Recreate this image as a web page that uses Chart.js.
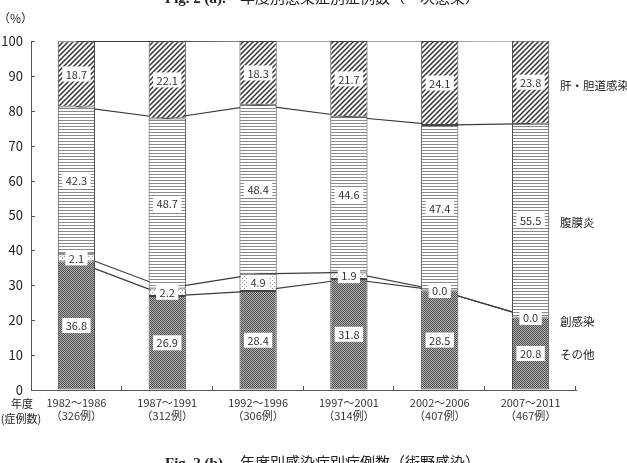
<!DOCTYPE html>
<html lang="ja">
  <head>
    <meta charset="UTF-8" />
    <title>年度別感染症別症例数</title>
    <script src="https://cdn.jsdelivr.net/npm/chart.js@4/dist/chart.umd.min.js"></script>
    <style>
      html, body { margin: 0; padding: 0; background: #fff; }
      #wrap { width: 627px; height: 463px; }
    </style>
  </head>
  <body>
    <div id="wrap"><canvas id="myChart" width="627" height="463"></canvas></div>
    <script>
      // datos
      var periods = ["1982～1986", "1987～1991", "1992～1996", "1997～2001", "2002～2006", "2007～2011"];
      var caseCounts = ["（326例）", "（312例）", "（306例）", "（314例）", "（407例）", "（467例）"];
      var seriesNames = ["その他", "創感染", "腹膜炎", "肝・胆道感染"];
      var otherValues = [36.8, 26.9, 28.4, 31.8, 28.5, 20.8];
      var woundValues = [2.1, 2.2, 4.9, 1.9, 0.0, 0.0];
      var peritonitisValues = [42.3, 48.7, 48.4, 44.6, 47.4, 55.5];
      var hepatoValues = [18.7, 22.1, 18.3, 21.7, 24.1, 23.8];
      var yTicks = [0, 10, 20, 30, 40, 50, 60, 70, 80, 90, 100];

      var FONT = "'Noto Sans CJK JP', 'Noto Sans', sans-serif";

      function makePattern(w, h, draw) {
        var c = document.createElement("canvas");
        c.width = w;
        c.height = h;
        var g = c.getContext("2d");
        g.fillStyle = "#fff";
        g.fillRect(0, 0, w, h);
        draw(g);
        return g.createPattern(c, "repeat");
      }

      // rayas diagonales
      var hatchDiag = makePattern(5, 5, function (g) {
        g.strokeStyle = "#333";
        g.lineWidth = 1.5;
        g.beginPath();
        g.moveTo(-1, 6); g.lineTo(6, -1);
        g.moveTo(-1, 1); g.lineTo(1, -1);
        g.moveTo(4, 6); g.lineTo(6, 4);
        g.stroke();
      });
      // rayas horizontales
      var hatchHoriz = makePattern(4, 3, function (g) {
        g.fillStyle = "#8a8a8a";
        g.fillRect(0, 0, 4, 1);
      });
      // puntos claros
      var dotsLight = makePattern(4, 4, function (g) {
        g.fillStyle = "#999";
        g.fillRect(0, 0, 1, 1);
        g.fillRect(2, 2, 1, 1);
      });
      // tramado oscuro
      var dotsDark = makePattern(2, 2, function (g) {
        g.fillStyle = "#b0b0b0";
        g.fillRect(0, 0, 2, 2);
        g.fillStyle = "#505050";
        g.fillRect(0, 0, 1, 1);
        g.fillRect(1, 1, 1, 1);
      });

      function cumulate(lists) {
        return periods.map(function (_, i) {
          var s = 0;
          lists.forEach(function (l) { s += l[i]; });
          return +s.toFixed(1);
        });
      }

      function barSet(label, data, bg) {
        return {
          type: "bar",
          label: label,
          data: data,
          backgroundColor: bg,
          borderColor: "#444",
          borderWidth: 1,
          borderSkipped: false,
          stack: "s",
          order: 0,
          isBar: true,
        };
      }
      function lineSet(data) {
        return {
          type: "line",
          data: data,
          yAxisID: "yl",
          borderColor: "#3a3a3a",
          borderWidth: 1.2,
          pointRadius: 0,
          tension: 0,
          fill: false,
          order: 5,
        };
      }

      var labelsPlugin = {
        id: "labelsPlugin",
        afterDraw: function (chart) {
          var ctx = chart.ctx;
          var area = chart.chartArea;
          ctx.save();
          // marcas hacia adentro
          ctx.strokeStyle = "#555";
          ctx.lineWidth = 1;
          var ys = chart.scales.y;
          yTicks.forEach(function (v) {
            var py = Math.round(ys.getPixelForValue(v)) + 0.5;
            ctx.beginPath();
            ctx.moveTo(area.left, py);
            ctx.lineTo(area.left + 4, py);
            ctx.stroke();
          });
          var step = (area.right - area.left) / periods.length;
          for (var i = 1; i <= periods.length; i++) {
            var px = Math.round(area.left + i * step) - 0.5;
            ctx.beginPath();
            ctx.moveTo(px, area.bottom);
            ctx.lineTo(px, area.bottom - 4);
            ctx.stroke();
          }

          // cajas con valores
          ctx.font = "11px " + FONT;
          ctx.textAlign = "center";
          ctx.textBaseline = "middle";
          chart.data.datasets.forEach(function (ds, di) {
            if (!ds.isBar) return;
            var meta = chart.getDatasetMeta(di);
            meta.data.forEach(function (el, i) {
              var p = el.getProps(["x", "y", "base"], true);
              var cy = (p.y + p.base) / 2;
              var txt = ds.data[i].toFixed(1);
              var w = ctx.measureText(txt).width + 7;
              ctx.fillStyle = "#fff";
              ctx.fillRect(p.x - w / 2, cy - 7.5, w, 15);
              ctx.fillStyle = "#333";
              ctx.fillText(txt, p.x, cy + 0.5);
            });
          });

          // nombres de series a la derecha
          ctx.font = "11.5px " + FONT;
          ctx.textAlign = "left";
          ctx.fillStyle = "#222";
          var nudge = [1, 4, 2, 3];
          chart.data.datasets.forEach(function (ds, di) {
            if (!ds.isBar) return;
            var meta = chart.getDatasetMeta(di);
            var el = meta.data[meta.data.length - 1];
            var p = el.getProps(["y", "base"], true);
            ctx.fillText(ds.label, area.right - 16, (p.y + p.base) / 2 + nudge[di]);
          });

          // textos sueltos
          ctx.font = "12px " + FONT;
          ctx.textAlign = "left";
          ctx.fillText("（%）", -2, 18);
          ctx.font = "11px " + FONT;
          ctx.textAlign = "center";
          ctx.fillText("年度", 22, 404);
          ctx.fillText("(症例数)", 21, 419);

          // titulos cortados
          ctx.fillStyle = "#222";
          ctx.font = "bold 15px 'Liberation Serif', serif";
          ctx.textAlign = "left";
          ctx.textBaseline = "alphabetic";
          ctx.fillText("Fig. 2 (a).", 165, 3);
          ctx.font = "15px " + FONT;
          ctx.fillText("年度別感染症別症例数（一次感染）", 240, 3);
          ctx.textBaseline = "top";
          ctx.font = "bold 15px 'Liberation Serif', serif";
          ctx.fillText("Fig. 2 (b).", 165, 457);
          ctx.font = "15px " + FONT;
          ctx.fillText("年度別感染症別症例数（術野感染）", 240, 455);
          ctx.restore();
        },
      };

      var grafica = new Chart(document.getElementById("myChart"), {
        data: {
          labels: periods.map(function (p, i) { return [p, caseCounts[i]]; }),
          datasets: [
            barSet(seriesNames[0], otherValues, dotsDark),
            barSet(seriesNames[1], woundValues, dotsLight),
            barSet(seriesNames[2], peritonitisValues, hatchHoriz),
            barSet(seriesNames[3], hepatoValues, hatchDiag),
            lineSet(cumulate([otherValues])),
            lineSet(cumulate([otherValues, woundValues])),
            lineSet(cumulate([otherValues, woundValues, peritonitisValues])),
            lineSet(cumulate([otherValues, woundValues, peritonitisValues, hepatoValues])),
          ],
        },
        options: {
          responsive: false,
          animation: false,
          layout: { padding: { top: 41, right: 51, bottom: 33, left: 0 } },
          datasets: { bar: { categoryPercentage: 1, barPercentage: 0.41 } },
          plugins: { legend: { display: false }, tooltip: { enabled: false } },
          scales: {
            x: {
              stacked: true,
              grid: { display: true, drawOnChartArea: false, drawTicks: false },
              border: { display: true, color: "#555", width: 1 },
              ticks: { color: "#333", font: { family: FONT, size: 11 }, padding: 6, maxRotation: 0, autoSkip: false },
              afterFit: function (s) { s.height = 40; },
            },
            y: {
              stacked: true,
              min: 0,
              max: 100,
              grid: { display: true, drawOnChartArea: false, drawTicks: false },
              border: { display: true, color: "#555", width: 1 },
              ticks: { stepSize: 10, color: "#222", font: { family: FONT, size: 13 }, padding: 8 },
              afterFit: function (s) { s.width = 31; },
            },
            yl: { display: false, min: 0, max: 100 },
          },
        },
        plugins: [labelsPlugin],
      });
    </script>
  </body>
</html>
